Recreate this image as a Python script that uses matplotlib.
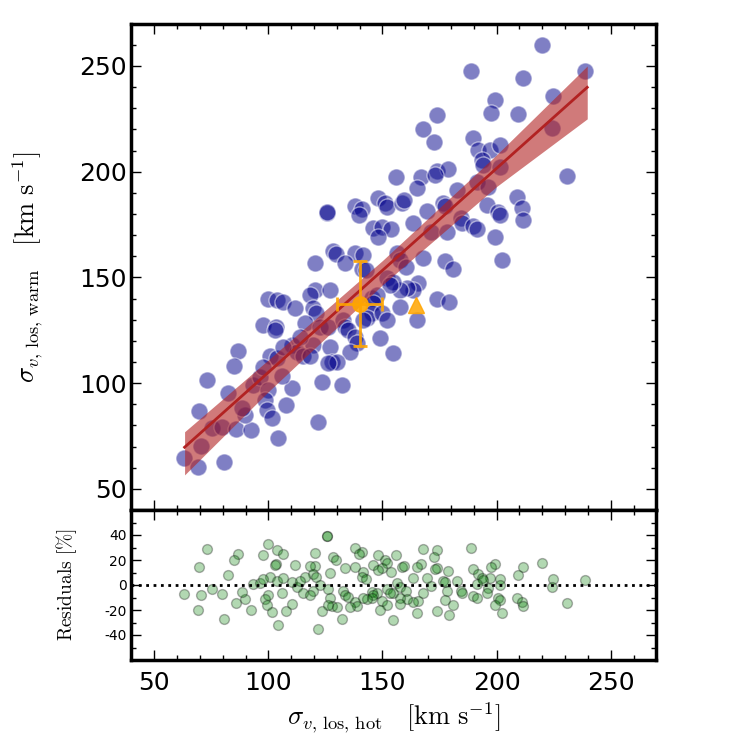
import numpy as np
import matplotlib
matplotlib.use('Agg')
import matplotlib.pyplot as plt
from matplotlib.ticker import MultipleLocator, FixedLocator, NullFormatter

# hot vs warm line-of-sight velocity dispersion (km/s)
x_hot = np.array([
    219.7, 188.8, 211.7, 238.7, 224.7, 199.3, 197.5, 209.5, 174.0, 224.1, 167.9,
    172.5, 189.8, 191.9, 197.1, 201.5, 193.4, 194.1, 201.5, 191.2, 196.3, 155.8, 166.8, 173.7, 178.7, 173.0, 165.2, 182.7, 230.7,
    125.5, 125.9, 137.9, 140.9, 139.8, 148.1, 151.1, 152.1, 158.4, 159.4, 169.3, 176.3, 177.4, 195.9, 200.8, 201.5, 209.0, 211.0, 211.7,
    163.2, 145.7, 149.6, 153.6, 148.1, 171.1, 178.1, 184.2, 184.7, 189.8, 191.2, 199.3,
    120.4, 128.4, 129.8, 137.9, 141.6, 133.6, 140.9, 142.8, 156.2, 157.7, 160.3, 167.9, 177.6, 181.0, 202.2,
    165.7, 163.5, 160.6, 157.7, 151.8, 154.7, 153.3, 120.4, 127.0, 118.2, 100.0, 103.6, 106.5, 145.3, 147.4,
    173.7, 179.2, 165.0, 157.7, 111.7, 119.7, 120.9, 97.8, 103.3, 102.9, 116.0, 122.6, 126.2, 132.8, 133.6, 135.0, 146.0, 145.3, 143.1, 141.6, 149.6, 151.8,
    148.9, 137.9, 138.7, 135.7, 119.7, 127.0, 110.2, 112.4, 86.8, 84.9, 100.7, 103.6, 115.3, 118.2, 127.7, 129.9, 154.7,
    63.0, 69.3, 80.6, 70.5, 69.8, 73.0, 82.3, 75.5, 79.9, 85.8, 92.4, 89.8, 88.3, 93.4, 96.3, 100.0, 98.5, 99.3, 101.5, 104.3,
    107.8, 110.2, 105.8, 97.8, 106.5, 113.9, 123.4, 121.9, 126.2, 132.1])
y_warm = np.array([
    259.9, 247.6, 244.2, 247.6, 235.8, 233.9, 227.6, 227.3, 226.6, 220.9, 220.1,
    214.2, 216.0, 210.3, 210.3, 212.6, 205.6, 203.2, 202.4, 195.3, 192.9, 197.7, 197.7, 200.4, 201.1, 198.5, 192.2, 191.4, 198.2,
    180.4, 181.0, 183.8, 182.2, 179.6, 187.4, 185.1, 183.2, 185.1, 186.6, 181.6, 185.0, 183.8, 184.3, 181.0, 179.3, 188.2, 182.9, 177.2,
    175.9, 173.3, 173.7, 172.8, 169.1, 171.7, 171.7, 178.0, 175.6, 174.4, 172.7, 168.9,
    156.7, 162.7, 161.1, 161.7, 160.6, 156.7, 154.0, 153.5, 161.4, 158.3, 155.1, 159.1, 158.0, 154.0, 158.3,
    147.4, 144.1, 144.9, 144.1, 149.6, 148.0, 146.5, 144.1, 144.1, 141.7, 139.7, 139.4, 138.6, 140.2, 141.7,
    139.8, 138.6, 129.9, 136.2, 135.4, 135.4, 133.1, 127.5, 126.7, 125.2, 128.3, 126.7, 126.7, 129.9, 126.7, 125.2, 137.8, 133.1, 130.7, 129.9, 133.1, 129.9,
    121.3, 122.0, 118.9, 114.9, 118.1, 117.3, 118.1, 114.9, 115.4, 108.3, 112.6, 111.8, 112.6, 112.6, 110.2, 110.2, 114.2,
    64.5, 60.5, 62.9, 70.2, 86.6, 101.5, 95.3, 78.6, 79.3, 78.4, 77.9, 84.8, 88.3, 99.2, 103.1, 96.8, 92.1, 87.4, 83.4, 74.0,
    89.5, 97.6, 103.4, 107.8, 117.3, 122.0, 100.7, 81.8, 109.4, 99.2])

# best fit line and its uncertainty band
fit_slope = 0.965
fit_intercept = 8.6
fit_range = [63.3, 239.7]
band_x = [63.3, 100, 150, 200, 239.7]
band_lo = [56.6, 96.0, 146.5, 193.0, 225.0]
band_hi = [77.0, 111.0, 158.0, 208.0, 250.0]

# orange points
obs_x, obs_y, obs_xerr, obs_yerr = 140.0, 137.6, 10.0, 20.0
tri_x, tri_y = 164.6, 137.0

plt.rcParams['mathtext.fontset'] = 'cm'
plt.rcParams['axes.unicode_minus'] = False
plt.rcParams['font.family'] = 'DejaVu Sans'

fig = plt.figure(figsize=(7.5, 7.5), dpi=100)
ax = fig.add_axes([0.1752, 0.32, 0.70, 0.6484])
axr = fig.add_axes([0.1752, 0.12, 0.70, 0.20])

ax.scatter(x_hot, y_warm, s=150, c='darkblue', alpha=0.5,
           edgecolors='w', linewidths=1, zorder=2)
ax.fill_between(band_x, band_lo, band_hi, color='firebrick', alpha=0.6,
                linewidth=0, zorder=3)
xf = np.array(fit_range)
ax.plot(xf, fit_intercept + fit_slope * xf, color='firebrick', lw=2, zorder=4)
ax.errorbar(obs_x, obs_y, xerr=obs_xerr, yerr=obs_yerr, fmt='o', color='orange',
            ms=11, elinewidth=2, capsize=5, capthick=2, alpha=0.9, zorder=5)
ax.plot(tri_x, tri_y, '^', color='orange', ms=12, mec='orange', alpha=0.85, zorder=5)

ax.set_xlim(40, 270)
ax.set_ylim(40, 270)
ax.set_ylabel(r'$\sigma_{v,\,\rm los,\,warm}\quad[\rm km\ s^{-1}]$', fontsize=19)
ax.xaxis.set_major_formatter(NullFormatter())
ax.yaxis.set_major_locator(FixedLocator([50, 100, 150, 200, 250]))
ax.yaxis.set_minor_locator(MultipleLocator(10))

# residuals in percent relative to the fit
resid = 100 * (y_warm - (fit_intercept + fit_slope * x_hot)) / (fit_intercept + fit_slope * x_hot)
axr.scatter(x_hot, resid, s=50, c='g', alpha=0.3, edgecolors='k', linewidths=1)
axr.axhline(0, color='k', ls=':', lw=2)
axr.set_xlim(40, 270)
axr.set_ylim(-60, 60)
axr.yaxis.set_major_locator(FixedLocator([-40, -20, 0, 20, 40]))
axr.yaxis.set_minor_locator(MultipleLocator(10))
axr.set_ylabel(r'$\rm Residuals\ [\%]$', fontsize=14)
axr.set_xlabel(r'$\sigma_{v,\,\rm los,\,hot}\quad[\rm km\ s^{-1}]$', fontsize=19)

for a in (ax, axr):
    a.xaxis.set_major_locator(MultipleLocator(50))
    a.xaxis.set_minor_locator(MultipleLocator(10))
    a.tick_params(which='both', direction='in', top=True, right=True)
    a.tick_params(which='major', length=7, width=1)
    a.tick_params(which='minor', length=3.5, width=1)
    for sp in a.spines.values():
        sp.set_linewidth(2.5)
ax.tick_params(axis='y', labelsize=18)
axr.tick_params(axis='x', labelsize=18, pad=8)
axr.tick_params(axis='y', labelsize=10)
ax.yaxis.set_label_coords(-0.165, 0.5)
axr.yaxis.set_label_coords(-0.10, 0.5)

fig.savefig('out.png', dpi=100)
